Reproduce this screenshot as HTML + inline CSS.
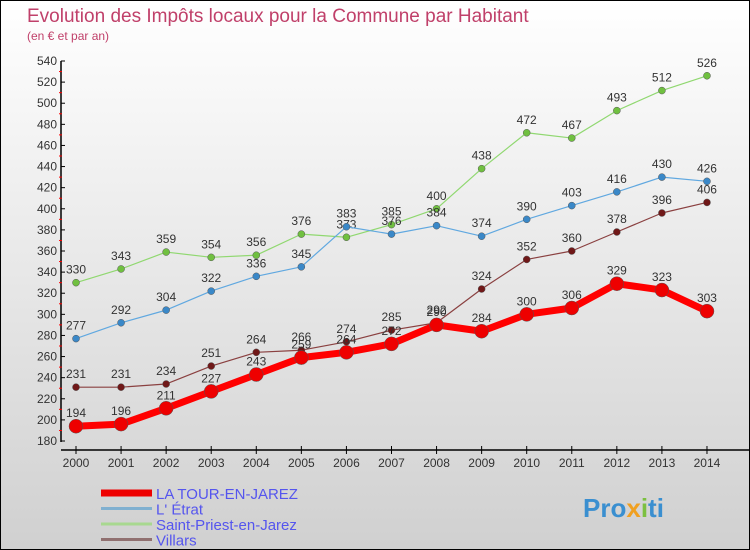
<!DOCTYPE html>
<html><head><meta charset="utf-8"><style>
body{margin:0}
#c{width:748px;height:548px;border:1px solid #000;background:linear-gradient(#fff,#d0d0d0);position:relative;overflow:hidden}
svg{position:absolute;left:0;top:0}
text{font-family:"Liberation Sans",sans-serif}
</style></head><body>
<div id="c">
<svg id="s" width="748" height="548">
<text x="26" y="21" font-size="19" fill="#c0406a">Evolution des Impôts locaux pour la Commune par Habitant</text>
<text x="26" y="39" font-size="12" fill="#c0406a">(en € et par an)</text>
<text x="582" y="516" font-size="26" font-weight="bold" fill="#3a8fd0">Pro<tspan fill="#f0a020">x</tspan><tspan fill="#7cc040">i</tspan>ti</text>
</svg></div>
<script>
const years=[2000,2001,2002,2003,2004,2005,2006,2007,2008,2009,2010,2011,2012,2013,2014];
const tour=[194,196,211,227,243,259,264,272,290,284,300,306,329,323,303];
const etrat=[277,292,304,322,336,345,383,376,384,374,390,403,416,430,426];
const priest=[330,343,359,354,356,376,373,385,400,438,472,467,493,512,526];
const villars=[231,231,234,251,264,266,274,285,292,324,352,360,378,396,406];
const yTicks=[180,200,220,240,260,280,300,320,340,360,380,400,420,440,460,480,500,520,540];
const NS='http://www.w3.org/2000/svg',s=document.getElementById('s');
const X=i=>75+i*45.07, Y=v=>440-(v-180)*380/360;
function el(t,a,p){const e=document.createElementNS(NS,t);for(const k in a)e.setAttribute(k,a[k]);(p||s).appendChild(e);return e;}
let ax=el('line',{x1:60,y1:60,x2:60,y2:441,stroke:'#000','stroke-width':1.5});

let bx=el('line',{x1:60,y1:449,x2:748,y2:449,stroke:'#000','stroke-width':1.5});

yTicks.forEach((v,i)=>{el('line',{x1:60,y1:Y(v),x2:64,y2:Y(v),stroke:'#000'});
 if(i<yTicks.length-1)el('line',{x1:58,y1:Y(v+10),x2:61,y2:Y(v+10),stroke:'#f00'});
 const t=el('text',{x:56,y:Y(v)+4,'font-size':12,fill:'#333','text-anchor':'end'});t.textContent=v;
 });
years.forEach((y,i)=>{el('line',{x1:X(i),y1:445,x2:X(i),y2:453,stroke:'#000'});
 const t=el('text',{x:X(i),y:466,'font-size':12,fill:'#333','text-anchor':'middle'});t.textContent=y;
 });
function series(d,col,dot,w,r,name){
 const g=el('g',{});
 el('polyline',{points:d.map((v,i)=>X(i)+','+Y(v)).join(' '),fill:'none',stroke:col,'stroke-width':w,'stroke-linejoin':'round'},g);
 d.forEach((v,i)=>{const c=el('circle',{cx:X(i),cy:Y(v),r:r,fill:dot,stroke:'#555','stroke-width':0.5},g);
  
  const t=el('text',{x:X(i),y:Y(v)-9,'font-size':12,fill:'#333','text-anchor':'middle'},g);t.textContent=v;
  });
}
series(priest,'#90d870','#70c040',1.2,3.5,'saint-priest');
series(etrat,'#60a8e0','#3a88c8',1.2,3.5,'etrat');
series(villars,'#8a4040','#701818',1.2,3.5,'villars');
series(tour,'#f00','#e00',7,7,'la-tour');
const leg=[['LA TOUR-EN-JAREZ','#e00',7],["L' Étrat",'#80b0d0',3],['Saint-Priest-en-Jarez','#a8d890',3],['Villars','#907070',3]];
leg.forEach((l,i)=>{const y=492+i*15.5;
 const g=el('g',{});
 el('line',{x1:100,y1:y,x2:151,y2:y,stroke:l[1],'stroke-width':l[2]},g);
 const t=el('text',{x:155,y:y+6,'font-size':15,fill:'#5555ee'},g);t.textContent=l[0];});
</script></body></html>
